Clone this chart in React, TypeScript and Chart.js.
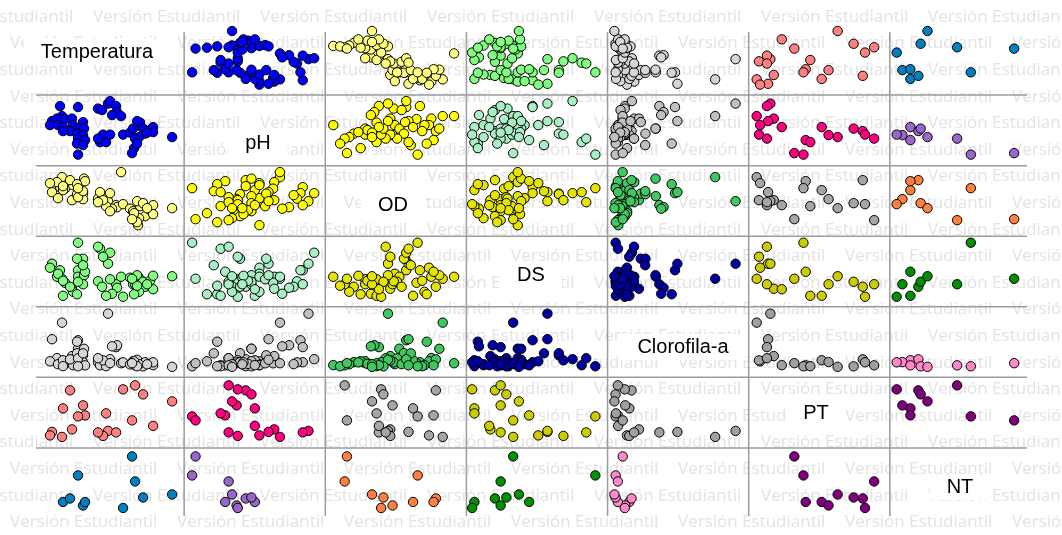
import React, { useEffect, useRef } from 'react';
import { Chart, registerables } from 'chart.js';

Chart.register(...registerables);

// ---------------- data ----------------
const variables = ['Temperatura', 'pH', 'OD', 'DS', 'Clorofila-a', 'PT', 'NT'];

const temperatura = [
  18.7, 20.5, 18.9, 18.4, 19.2, 19.9, 17.9, 17.7, 18.5, 19.0, 20.0, 20.5, 19.7, 19.0, 21.0, 21.1, 20.4, 21.0, 20.5, 21.2, 20.4, 21.0, 20.5,
  22.5, 22.9, 23.5, 23.7, 24.3, 24.4, 24.8, 23.9,
  22.7, 23.3, 23.0, 23.7, 22.5,
  25.0, 25.7, 26.0, 26.5, 26.7, 26.4, 27.0, 27.2, 26.6, 26.2, 26.1, 26.4, 27.7, 28.0, 28.0, 27.4, 25.9,
  29.9,
];
const ph = [
  8.88, 8.84, 8.48, 8.38, 8.36, 8.38, 8.28, 8.12, 8.12, 8.04, 8.12, 7.98, 7.88, 7.88, 8.24, 7.98, 7.78, 7.72, 7.58, 7.52, 7.38, 7.32, 6.94,
  8.78, 8.72, 8.98, 9.08, 8.88, 8.64, 8.48, 8.52,
  7.44, 7.44, 7.74, 7.74, 7.58,
  7.74, 7.82, 7.98, 8.12, 8.22, 8.28, 7.98, 7.78, 7.64, 7.58, 7.2, 7.38, 7.92, 8.04, 7.84, 7.82, 7.0,
  7.64,
];
const od = [
  7.9, 7.3, 8.9, 8.4, 7.75, 6.6, 7.4, 8.3, 6.8, 7.6, 8.1, 7.0, 8.6, 8.0, 7.25, 8.75, 7.2, 6.7, 6.9, 8.5, 8.2, 7.5, 7.8,
  6.75, 7.1, 6.5, 7.3, 6.1, 5.9, 9.4, 5.75,
  7.4, 6.0, 6.6, 5.5, 6.4,
  6.2, 5.75, 5.5, 4.1, 6.0, 6.5, 6.3, 5.0, 4.8, 4.6, 5.3, 4.4, 5.6, 6.1, 5.2, 5.8, 4.7,
  5.8,
];
const ds = [
  0.73, 0.73, 0.56, 0.6, 0.48, 0.36, 0.86, 0.78, 0.66, 0.22, 0.3, 0.6, 0.4, 0.52, 0.96, 0.63, 0.96, 0.45, 0.5, 0.7, 0.25, 0.83, 1.28,
  0.51, 0.4, 0.86, 1.08, 0.45, 0.38, 0.6, 0.26,
  1.16, 0.22, 1.0, 0.55, 1.2,
  0.2, 0.58, 0.45, 0.6, 0.55, 0.63, 0.5, 0.4, 0.3, 0.45, 0.25, 0.42, 0.52, 0.35, 0.62, 0.45, 0.56,
  0.61,
];
const clorofila = [
  30.2, 74.1, 109.3, 38.4, 28.1, 42.5, 76.2, 32.0, 26.3, 34.1, 24.2, 57.3, 36.0, 22.4, 44.1, 57.0, 48.2, 30.5, 38.1, 24.0, 71.2, 48.0, 22.1,
  30.0, 26.4, 127.2, 36.3, 60.4, 64.1, 28.2, 62.0,
  24.1, 22.3, 34.0, 28.4, 38.2,
  30.1, 26.0, 32.2, 24.4, 28.0, 35.1, 22.0, 30.3, 26.2, 24.0, 32.1, 22.2, 27.0, 24.3, 30.0, 26.1, 28.3,
  21.0,
];
const pt = [
  null, null, 44, null, null, 74, 64, 50, null, 158, null, null, 230, null, null, null, null, 170, null, 130, null, null, 126,
  null, null, 68, null, 62, null, null, null,
  null, 138, 48, null, 62,
  234, null, null, null, null, null, 214, null, null, 250, null, null, null, 88, null, null, 110,
  186,
];
const nt = [
  null, null, null, null, null, null, null, null, null, 0.66, null, null, 0.8, null, null, null, null, 0.52, null, 0.66, null, null, 1.72,
  null, null, null, null, null, null, null, null,
  null, null, null, null, null,
  0.42, null, null, null, null, null, 0.84, null, null, 1.48, null, null, null, null, null, null, 2.48,
  0.96,
];

const series: (number | null)[][] = [temperatura, ph, od, ds, clorofila, pt, nt];

// axis ranges (no ticks are shown in the reference)
const xMin = [17, 6.8, 3.75, 0.15, 15, 30, 0.3];
const xMax = [31.1, 9.275, 9.94, 1.387, 138.7, 277.5, 2.775];
const yMin = [15.33, 6.5, 3, 0, 0, 0, 0];
const yMax = [31.38, 9.32, 10.05, 1.41, 141, 282, 2.82];

// colour for each pair of variables (symmetric)
const pairColors: Record<string, string> = {
  '0-1': '#0000FF', '0-2': '#FFFF80', '0-3': '#80FF80', '0-4': '#D6D6D6', '0-5': '#FF8080', '0-6': '#0080C0',
  '1-2': '#FFFF00', '1-3': '#A8EFC4', '1-4': '#C0C0C0', '1-5': '#FF0080', '1-6': '#9966CC',
  '2-3': '#E5E500', '2-4': '#40C860', '2-5': '#A6A6A6', '2-6': '#FF8040',
  '3-4': '#0000A0', '3-5': '#CCCC00', '3-6': '#009000',
  '4-5': '#A0A0A0', '4-6': '#FF88C8',
  '5-6': '#800080',
};

const WATERMARK = 'Versión Estudiantil';

// ---------------- layout constants ----------------
const GRID_LEFT = 43;
const GRID_TOP = 24.5;
const CELL_W = 141.14;
const CELL_H = 70.57;
const N = 7;

const labelPos = [
  [97, 52], [258, 143], [393, 205], [531, 275], [683, 347], [816, 413], [960, 487],
];

function pairColor(r: number, c: number) {
  const a = Math.min(r, c), b = Math.max(r, c);
  return pairColors[`${a}-${b}`];
}

export default function App() {
  const ref = useRef<HTMLCanvasElement>(null);

  useEffect(() => {
    const canvas = ref.current;
    if (!canvas) return;

    const datasets: any[] = [];
    for (let r = 0; r < N; r++) {
      for (let c = 0; c < N; c++) {
        if (r === c) continue;
        const xs = series[c];
        const ys = series[r];
        const pts: { x: number; y: number }[] = [];
        for (let i = 0; i < xs.length; i++) {
          const xv = xs[i], yv = ys[i];
          if (xv === null || yv === null) continue;
          pts.push({ x: xv, y: yv });
        }
        datasets.push({
          label: `${variables[r]} vs ${variables[c]}`,
          data: pts,
          xAxisID: 'x' + c,
          yAxisID: 'y' + r,
          backgroundColor: pairColor(r, c),
          borderColor: '#000000',
          borderWidth: 1,
          pointRadius: 4.7,
          showLine: false,
          clip: false,
        });
      }
    }

    const scales: any = {};
    for (let i = 0; i < N; i++) {
      scales['x' + i] = { type: 'linear', axis: 'x', position: 'bottom', display: false, min: xMin[i], max: xMax[i] };
      scales['y' + i] = { type: 'linear', axis: 'y', position: 'left', display: false, min: yMin[i], max: yMax[i] };
    }

    const cellPlugin = {
      id: 'cellPlacement',
      afterLayout(chart: any) {
        for (let i = 0; i < N; i++) {
          const sx = chart.scales['x' + i];
          const left = GRID_LEFT + i * CELL_W;
          sx.left = left;
          sx.right = left + CELL_W;
          sx.width = CELL_W;
          sx.top = GRID_TOP;
          sx.bottom = GRID_TOP + N * CELL_H;
          sx.configure();
          const sy = chart.scales['y' + i];
          const top = GRID_TOP + i * CELL_H;
          sy.top = top;
          sy.bottom = top + CELL_H;
          sy.height = CELL_H;
          sy.left = GRID_LEFT;
          sy.right = GRID_LEFT + N * CELL_W;
          sy.configure();
        }
      },
    };

    const backgroundPlugin = {
      id: 'splomBackground',
      beforeDatasetsDraw(chart: any) {
        const ctx = chart.ctx as CanvasRenderingContext2D;
        ctx.save();
        // watermark
        ctx.font = '17px "Open Sans"';
        ctx.fillStyle = '#e3e3e3';
        ctx.textBaseline = 'middle';
        ctx.textAlign = 'left';
        for (let row = 0; row < 21; row++) {
          const y = 17 + row * 26.6;
          const start = row % 2 === 0 ? -74 : 10;
          for (let x = start; x < chart.width; x += 167) ctx.fillText(WATERMARK, x, y);
        }
        // separating lines
        ctx.strokeStyle = '#9c9c9c';
        ctx.lineWidth = 1.5;
        ctx.beginPath();
        for (let i = 1; i < N; i++) {
          const x = GRID_LEFT + i * CELL_W;
          ctx.moveTo(x, 32);
          ctx.lineTo(x, 516);
          const y = GRID_TOP + i * CELL_H;
          ctx.moveTo(36, y);
          ctx.lineTo(1027, y);
        }
        ctx.stroke();
        // diagonal labels on white boxes
        ctx.font = '20px "Liberation Sans", Arial, sans-serif';
        ctx.textAlign = 'center';
        for (let i = 0; i < N; i++) {
          const [cx, cy] = labelPos[i];
          const w = ctx.measureText(variables[i]).width;
          ctx.fillStyle = '#ffffff';
          ctx.fillRect(cx - w / 2 - 17, cy - 13, w + 34, 26);
          ctx.fillStyle = '#000000';
          ctx.fillText(variables[i], cx, cy);
        }
        ctx.restore();
      },
    };

    const chart = new Chart(canvas, {
      type: 'scatter',
      data: { datasets },
      options: {
        responsive: false,
        animation: false,
        events: [],
        layout: { padding: 0 },
        plugins: { legend: { display: false }, tooltip: { enabled: false } },
        scales,
      },
      plugins: [cellPlugin, backgroundPlugin],
    } as any);

    return () => chart.destroy();
  }, []);

  return (
    <div style={{ position: 'absolute', left: 0, top: 0, width: 1062, height: 535, background: '#ffffff' }}>
      <canvas ref={ref} width={1062} height={535} style={{ display: 'block' }} />
    </div>
  );
}
